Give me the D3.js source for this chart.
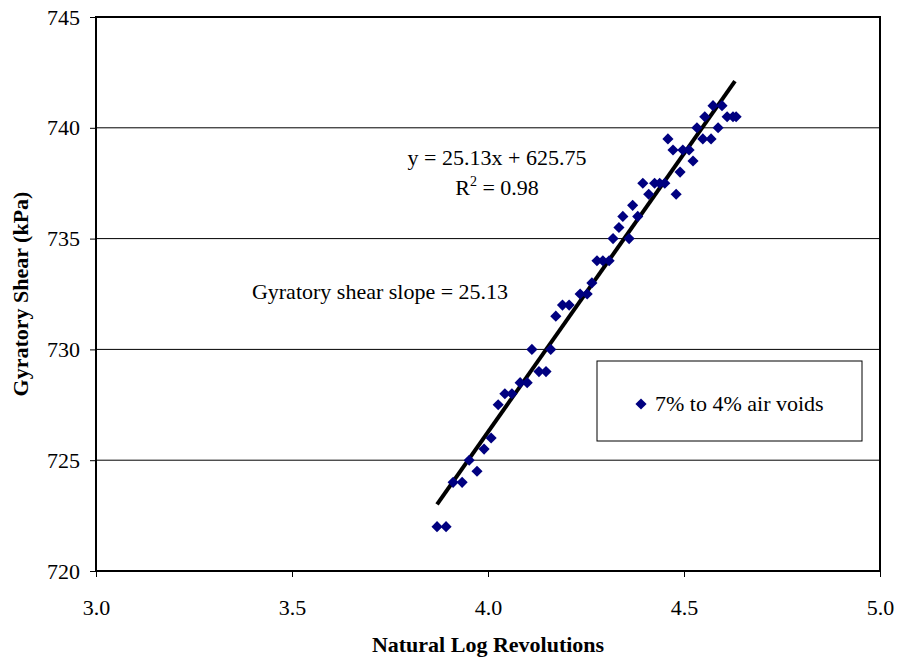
<!DOCTYPE html>
<html>
<head>
<meta charset="utf-8">
<script src="https://cdn.jsdelivr.net/npm/d3@7"></script>
<style>
  body { margin: 0; background: #fff; }
  text { font-family: "Liberation Serif", "Times New Roman", serif; }
</style>
</head>
<body>
<div id="chart"></div>
<script>
// Natural log of revolutions and gyratory shear (kPa)
const lnRev = [3.87, 3.893, 3.911, 3.934, 3.952, 3.972, 3.99, 4.008, 4.026, 4.043,
    4.061, 4.082, 4.1, 4.112, 4.13, 4.148, 4.16, 4.173, 4.19, 4.207, 4.235, 4.253,
    4.265, 4.278, 4.293, 4.309, 4.319, 4.334, 4.344, 4.36, 4.369, 4.382, 4.395,
    4.41, 4.425, 4.438, 4.451, 4.459, 4.472, 4.48, 4.49, 4.497, 4.513, 4.523,
    4.533, 4.548, 4.553, 4.569, 4.574, 4.587, 4.597, 4.61, 4.625, 4.633];
const shear = [722, 722, 724, 724, 725, 724.5, 725.5, 726, 727.5, 728,
    728, 728.5, 728.5, 730, 729, 729, 730, 731.5, 732, 732, 732.5, 732.5,
    733, 734, 734, 734, 735, 735.5, 736, 735, 736.5, 736, 737.5,
    737, 737.5, 737.5, 737.5, 739.5, 739, 737, 738, 739, 739, 738.5,
    740, 739.5, 740.5, 739.5, 741, 740, 741, 740.5, 740.5, 740.5];

const xTicks = [3.0, 3.5, 4.0, 4.5, 5.0];
const yTicks = [720, 725, 730, 735, 740, 745];
const slope = 25.13, intercept = 625.75, r2 = 0.98;
const fitRange = [3.87, 4.63];
const seriesName = "7% to 4% air voids";

const width = 900, height = 662;
const margin = { top: 17, right: 20, bottom: 91, left: 96 };
const fontSize = "22px";

const svg = d3.select("#chart").append("svg")
    .attr("width", width)
    .attr("height", height);

const x = d3.scaleLinear().domain([3, 5]).range([margin.left, width - margin.right]);
const y = d3.scaleLinear().domain([720, 745]).range([height - margin.bottom, margin.top]);

// horizontal gridlines
svg.append("g")
    .selectAll("line")
    .data(yTicks.slice(1, -1))
    .enter().append("line")
    .attr("x1", x(3)).attr("x2", x(5))
    .attr("y1", d => y(d)).attr("y2", d => y(d))
    .attr("stroke", "#000").attr("stroke-width", 1);

// plot frame
svg.append("rect")
    .attr("x", x(3)).attr("y", y(745))
    .attr("width", x(5) - x(3)).attr("height", y(720) - y(745))
    .attr("fill", "none").attr("stroke", "#000").attr("stroke-width", 2);

// axes
const xAxis = d3.axisBottom(x).tickValues(xTicks).tickFormat(d3.format(".1f")).tickSize(6);
const yAxis = d3.axisLeft(y).tickValues(yTicks).tickFormat(d3.format("d")).tickSize(6);

svg.append("g")
    .attr("transform", "translate(0," + y(720) + ")")
    .call(xAxis)
    .call(g => g.select(".domain").remove())
    .call(g => g.selectAll("text").attr("y", 28)
        .style("font-size", fontSize).style("font-family", "Liberation Serif").attr("fill", "#000"));

svg.append("g")
    .attr("transform", "translate(" + x(3) + ",0)")
    .call(yAxis)
    .call(g => g.select(".domain").remove())
    .call(g => g.selectAll("text").attr("x", -16)
        .style("font-size", fontSize).style("font-family", "Liberation Serif").attr("fill", "#000"));

// axis titles
svg.append("text")
    .attr("x", (x(3) + x(5)) / 2)
    .attr("y", 652)
    .attr("text-anchor", "middle")
    .style("font-size", fontSize).style("font-weight", "bold")
    .text("Natural Log Revolutions");

svg.append("text")
    .attr("transform", "translate(28," + ((y(720) + y(745)) / 2) + ") rotate(-90)")
    .attr("text-anchor", "middle")
    .style("font-size", fontSize).style("font-weight", "bold")
    .text("Gyratory Shear (kPa)");

// trend line
svg.append("line")
    .attr("x1", x(fitRange[0])).attr("y1", y(slope * fitRange[0] + intercept))
    .attr("x2", x(fitRange[1])).attr("y2", y(slope * fitRange[1] + intercept))
    .attr("stroke", "#000").attr("stroke-width", 4);

// data points (diamonds)
const diamond = d3.symbol().type(d3.symbolSquare).size(62);
svg.append("g")
    .selectAll("path")
    .data(lnRev.map((d, i) => ({ x: d, y: shear[i] })))
    .enter().append("path")
    .attr("d", diamond)
    .attr("transform", d => "translate(" + x(d.x) + "," + y(d.y) + ") rotate(45)")
    .attr("fill", "#000080");

// equation labels
svg.append("text")
    .attr("x", 497).attr("y", 165)
    .attr("text-anchor", "middle")
    .style("font-size", fontSize)
    .text("y = " + slope + "x + " + intercept);

const r2Text = svg.append("text")
    .attr("x", 497).attr("y", 195)
    .attr("text-anchor", "middle")
    .style("font-size", fontSize);
r2Text.append("tspan").text("R");
r2Text.append("tspan").attr("dy", -9).style("font-size", "14px").text("2");
r2Text.append("tspan").attr("dy", 9).text(" = " + r2.toFixed(2));

svg.append("text")
    .attr("x", 380).attr("y", 299)
    .attr("text-anchor", "middle")
    .style("font-size", fontSize)
    .text("Gyratory shear slope = " + slope);

// legend
const legend = svg.append("g").attr("transform", "translate(597,361)");
legend.append("rect")
    .attr("width", 265).attr("height", 80)
    .attr("fill", "#fff").attr("stroke", "#000").attr("stroke-width", 1);
legend.append("path")
    .attr("d", diamond)
    .attr("transform", "translate(44,43) rotate(45)")
    .attr("fill", "#000080");
legend.append("text")
    .attr("x", 58).attr("y", 50)
    .style("font-size", fontSize)
    .text(seriesName);
</script>
</body>
</html>
